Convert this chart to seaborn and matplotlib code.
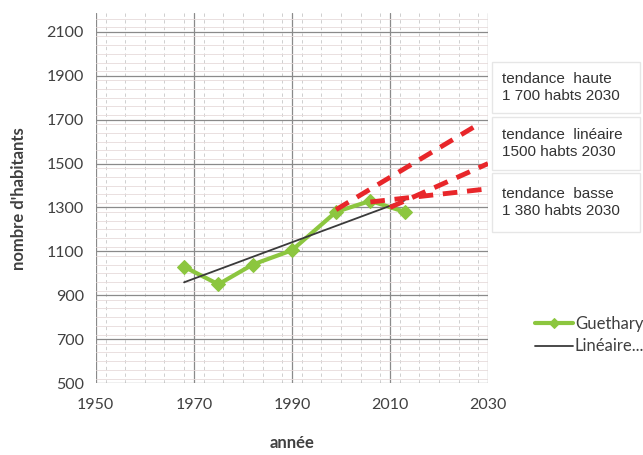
import numpy as np
import pandas as pd
import matplotlib.pyplot as plt
from matplotlib.patches import Rectangle
from matplotlib.ticker import MultipleLocator
import seaborn as sns

# Data
years = [1968, 1975, 1982, 1990, 1999, 2006, 2013]
habitants = [1030, 950, 1040, 1105, 1280, 1330, 1280]

haute_years = [1999, 2027]
haute_vals = [1290, 1665]
lineaire_years = [2010, 2030]
lineaire_vals = [1300, 1500]
basse_years = [2006, 2030]
basse_vals = [1325, 1385]

box_texts = ["tendance  haute\n1 700 habts 2030",
             "tendance  linéaire\n1500 habts 2030",
             "tendance  basse\n1 380 habts 2030"]

df = pd.DataFrame({'année': years, "nombre d'habitants": habitants})

sns.set_style('white')
plt.rcParams['font.family'] = ['Lato', 'DejaVu Sans']

fig = plt.figure(figsize=(6.43, 4.55), dpi=100)
ax = fig.add_axes([0.149, 0.158, 0.61, 0.813])

ax.xaxis.set_major_locator(MultipleLocator(20))
ax.xaxis.set_minor_locator(MultipleLocator(4))
ax.yaxis.set_major_locator(MultipleLocator(200))
ax.yaxis.set_minor_locator(MultipleLocator(40))
ax.grid(which='minor', axis='y', color='#e6dada', lw=0.6)
ax.grid(which='minor', axis='x', color='#c8c8c8', lw=0.6, ls=(0, (4, 4)))
ax.grid(which='major', color='#8a8a8a', lw=0.9)
ax.set_axisbelow(True)

sns.lineplot(data=df, x='année', y="nombre d'habitants", ax=ax,
             color='#8cc63f', lw=3, marker='D', markersize=7,
             markeredgecolor='#8cc63f', label='Guethary')
sns.regplot(data=df, x='année', y="nombre d'habitants", ax=ax,
            scatter=False, ci=None, color='#3a3a3a', label='Linéaire...',
            line_kws={'lw': 1.3})

red = '#e8262a'
for yy, vv in [(haute_years, haute_vals), (lineaire_years, lineaire_vals),
               (basse_years, basse_vals)]:
    sns.lineplot(x=yy, y=vv, ax=ax, color=red, lw=3.5, legend=False)
    ax.lines[-1].set_dashes((3, 2))

ax.set_xlim(1950, 2030)
ax.set_ylim(500, 2185)
ax.set_xticks([1950, 1970, 1990, 2010, 2030])
ax.set_yticks(list(range(500, 2101, 200)))
ax.tick_params(axis='both', which='major', labelsize=11.5, labelcolor='#404040',
               direction='out', length=5, color='#888888', width=0.9)
ax.tick_params(axis='x', pad=6)
ax.set_xlabel('année', fontsize=12, fontweight='bold', color='#404040', labelpad=16)
ax.set_ylabel("nombre d'habitants", fontsize=12, fontweight='bold', color='#404040', labelpad=14)
for s in ax.spines.values():
    s.set_visible(False)

# projection boxes on the right
W, H = 643, 455
boxes = [(62, 113), (117, 170), (173, 232)]
for (top, bot), txt in zip(boxes, box_texts):
    fig.patches.append(Rectangle((492 / W, 1 - bot / H), 148 / W, (bot - top) / H,
                                 transform=fig.transFigure, fc='white',
                                 ec='#e6e6e6', lw=1))
    fig.text(502 / W, 1 - (top + bot) / 2 / H, txt, fontsize=11,
             family=['Liberation Sans Narrow', 'Liberation Sans', 'DejaVu Sans'],
             color='#333333', va='center', ha='left', linespacing=1.3)

handles, labels = ax.get_legend_handles_labels()
leg = ax.legend(handles, labels, loc='center left', bbox_to_anchor=(520 / W, 1 - 335 / H),
                bbox_transform=fig.transFigure, frameon=False, fontsize=12,
                handlelength=2.3, handletextpad=0.1, labelspacing=0.4,
                labelcolor='#404040')
for h in leg.legend_handles:
    h.set_markersize(5)

fig.savefig('out.png', dpi=100)
